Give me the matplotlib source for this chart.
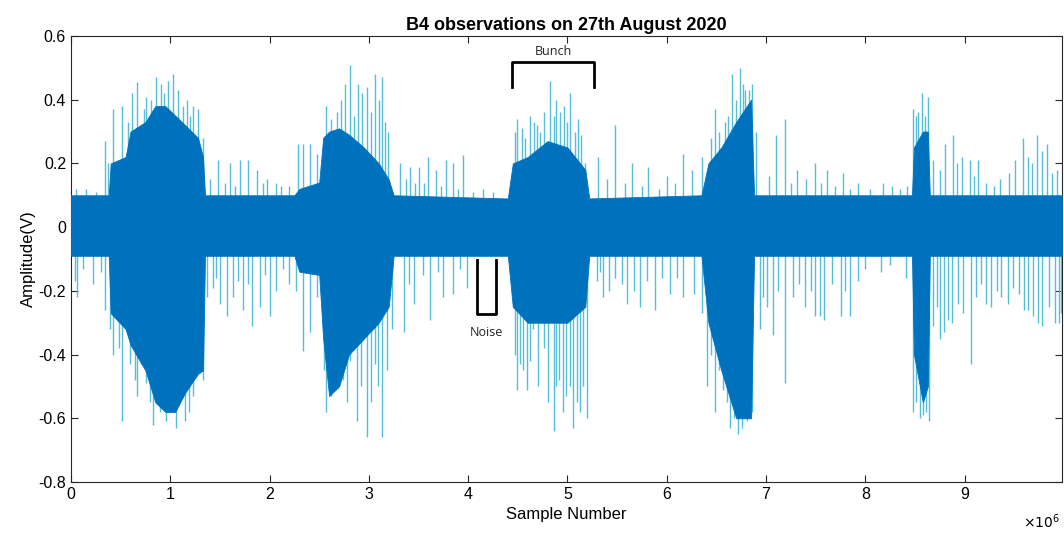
import matplotlib.pyplot as plt
import numpy as np

plt.rcParams['font.family'] = ['Liberation Sans', 'DejaVu Sans']
plt.rcParams['axes.unicode_minus'] = False

SCALE = 1e6  # x values below are in units of 1e6 samples

# dense core of the signal (dark band): x, upper edge, lower edge
core_x = [0.00, 0.38, 0.40, 0.55, 0.60, 0.75, 0.85, 0.95, 1.05, 1.15, 1.28, 1.33, 1.35,
          2.25, 2.30, 2.50, 2.54, 2.60, 2.70, 2.80, 2.95, 3.10, 3.20, 3.25,
          4.40, 4.45, 4.60, 4.80, 5.00, 5.18, 5.22,
          6.35, 6.42, 6.55, 6.70, 6.85, 6.88,
          8.47, 8.49, 8.58, 8.63, 8.65, 9.98]
core_hi = [0.10, 0.10, 0.20, 0.22, 0.30, 0.33, 0.38, 0.38, 0.35, 0.32, 0.28, 0.22, 0.10,
           0.10, 0.12, 0.14, 0.28, 0.30, 0.31, 0.29, 0.25, 0.20, 0.15, 0.10,
           0.09, 0.20, 0.22, 0.27, 0.25, 0.18, 0.09,
           0.10, 0.20, 0.25, 0.33, 0.40, 0.10,
           0.10, 0.25, 0.30, 0.30, 0.10, 0.10]
core_lo = [-0.09, -0.09, -0.27, -0.32, -0.37, -0.45, -0.55, -0.58, -0.58, -0.52, -0.46, -0.45, -0.09,
           -0.09, -0.14, -0.15, -0.35, -0.53, -0.50, -0.40, -0.35, -0.30, -0.25, -0.09,
           -0.09, -0.25, -0.30, -0.30, -0.30, -0.25, -0.09,
           -0.09, -0.30, -0.45, -0.60, -0.60, -0.09,
           -0.09, -0.40, -0.55, -0.50, -0.09, -0.09]

# isolated peaks above the core (light lines)
up_x = [0.34, 0.42, 0.51, 0.61, 0.67, 0.76, 0.86, 0.91, 0.98, 1.03, 1.08, 1.17, 1.23, 1.28, 1.33,
        1.48, 1.60, 1.70, 1.78, 1.87, 1.97, 2.07, 2.20, 2.29, 2.34, 2.41, 2.48,
        2.57, 2.68, 2.76, 2.81, 2.89, 2.98, 3.06, 3.13, 3.19,
        3.31, 3.41, 3.51, 3.60, 3.68, 3.78, 3.85, 3.95, 4.15,
        4.49, 4.54, 4.62, 4.69, 4.76, 4.82, 4.89, 4.97, 5.03, 5.11, 5.18,
        5.31, 5.48, 5.65, 5.81, 6.00, 6.16, 6.25, 6.36,
        6.49, 6.59, 6.66, 6.74, 6.79, 6.86, 6.90,
        7.10, 7.19, 7.31, 7.49, 7.61, 7.78, 7.93, 8.18, 8.27, 8.42,
        8.48, 8.51, 8.57, 8.63,
        8.68, 8.80, 8.88, 8.97, 9.05, 9.14, 9.36, 9.51, 9.59, 9.64, 9.73, 9.83, 9.93,
        0.37, 0.57, 0.74, 0.81, 0.94, 1.13, 1.20,
        2.62, 2.72, 2.85, 2.93, 3.02, 3.10, 3.16,
        4.47, 4.57, 4.66, 4.72, 4.86, 4.93, 5.00, 5.08, 5.14,
        6.45, 6.53, 6.62, 6.70, 6.77, 6.83, 8.53, 8.60,
        0.05, 0.15, 0.25, 1.40, 1.55, 1.65, 1.93, 2.12, 3.37, 3.46, 3.56, 3.73, 3.90, 4.05, 4.25,
        5.40, 5.58, 5.75, 5.92, 6.08, 7.03, 7.25, 7.40, 7.55, 7.70, 7.85, 8.05, 8.35,
        8.75, 8.92, 9.10, 9.22, 9.30, 9.45, 9.68, 9.78, 9.88]
up_y = [0.27, 0.37, 0.38, 0.42, 0.455, 0.41, 0.47, 0.45, 0.46, 0.48, 0.43, 0.40, 0.38, 0.37, 0.28,
        0.21, 0.20, 0.21, 0.21, 0.18, 0.15, 0.14, 0.13, 0.26, 0.26, 0.26, 0.23,
        0.38, 0.36, 0.45, 0.51, 0.45, 0.44, 0.48, 0.47, 0.30,
        0.20, 0.19, 0.19, 0.22, 0.18, 0.21, 0.20, 0.225, 0.12,
        0.34, 0.31, 0.35, 0.32, 0.36, 0.46, 0.40, 0.38, 0.42, 0.34, 0.20,
        0.22, 0.32, 0.20, 0.19, 0.16, 0.23, 0.18, 0.22,
        0.37, 0.33, 0.48, 0.50, 0.43, 0.45, 0.30,
        0.29, 0.34, 0.18, 0.20, 0.18, 0.17, 0.14, 0.14, 0.13, 0.13,
        0.37, 0.35, 0.42, 0.41,
        0.21, 0.26, 0.29, 0.22, 0.21, 0.21, 0.15, 0.21, 0.28, 0.22, 0.29, 0.26, 0.18,
        0.20, 0.33, 0.37, 0.40, 0.42, 0.38, 0.35,
        0.34, 0.40, 0.35, 0.42, 0.36, 0.40, 0.33,
        0.30, 0.28, 0.33, 0.30, 0.35, 0.36, 0.33, 0.30, 0.29,
        0.28, 0.30, 0.35, 0.40, 0.45, 0.43, 0.36, 0.35,
        0.12, 0.12, 0.11, 0.15, 0.14, 0.13, 0.14, 0.13, 0.15, 0.14, 0.14, 0.13, 0.12, 0.11, 0.11,
        0.15, 0.14, 0.13, 0.12, 0.14, 0.16, 0.14, 0.15, 0.14, 0.13, 0.12, 0.12, 0.12,
        0.18, 0.20, 0.16, 0.14, 0.13, 0.17, 0.20, 0.24, 0.17]

# isolated peaks below the core
lo_x = [0.04, 0.06, 0.22, 0.34, 0.42, 0.51, 0.59, 0.67, 0.76, 0.83, 0.90, 0.96, 1.06, 1.15, 1.23, 1.33,
        1.37, 1.43, 1.50, 1.57, 1.63, 1.73, 1.82, 1.90, 2.00, 2.07, 2.20, 2.27, 2.34, 2.41, 2.48,
        2.57, 2.62, 2.74, 2.81, 2.88, 2.98, 3.06, 3.13, 3.23,
        3.35, 3.45, 3.62, 3.75, 3.85, 3.99,
        4.49, 4.52, 4.59, 4.65, 4.76, 4.86, 4.92, 4.99, 5.06, 5.13, 5.20,
        5.30, 5.36, 5.48, 5.60, 5.73, 5.88, 6.03, 6.16, 6.27, 6.36,
        6.41, 6.49, 6.57, 6.64, 6.72, 6.81, 6.86,
        6.94, 7.07, 7.19, 7.27, 7.39, 7.49, 7.54, 7.58, 7.76, 7.85, 7.93, 8.16, 8.41,
        8.48, 8.58, 8.64,
        8.68, 8.75, 8.83, 8.98, 9.06, 9.17, 9.27, 9.37, 9.44, 9.49, 9.60, 9.69, 9.78, 9.91, 9.97,
        0.39, 0.48, 0.64, 0.71, 0.80, 0.87, 1.02, 1.12, 1.19, 1.28,
        2.55, 2.66, 2.78, 2.92, 3.02, 3.09, 3.18,
        4.47, 4.55, 4.62, 4.70, 4.80, 4.89, 4.96, 5.03, 5.10, 5.16,
        6.45, 6.53, 6.61, 6.68, 6.76, 6.84, 8.51, 8.55, 8.61,
        0.12, 0.30, 1.46, 1.68, 1.78, 1.95, 2.14, 3.40, 3.55, 3.70, 3.92,
        5.33, 5.42, 5.55, 5.67, 5.80, 5.95, 6.10, 6.97, 7.01, 7.12, 7.33, 7.45, 7.66, 7.80, 8.00, 8.25,
        8.72, 8.79, 8.87, 8.93, 9.12, 9.22, 9.33, 9.55, 9.64, 9.74, 9.85, 9.95]
lo_y = [-0.17, -0.22, -0.18, -0.26, -0.40, -0.61, -0.43, -0.53, -0.49, -0.62, -0.58, -0.61, -0.63, -0.61, -0.53, -0.48,
        -0.22, -0.19, -0.24, -0.28, -0.22, -0.26, -0.31, -0.25, -0.28, -0.20, -0.18, -0.20, -0.39, -0.33, -0.22,
        -0.58, -0.53, -0.48, -0.42, -0.61, -0.66, -0.43, -0.66, -0.32,
        -0.33, -0.24, -0.29, -0.22, -0.21, -0.19,
        -0.51, -0.43, -0.51, -0.32, -0.38, -0.64, -0.48, -0.53, -0.63, -0.58, -0.60,
        -0.17, -0.22, -0.16, -0.24, -0.25, -0.26, -0.21, -0.22, -0.21, -0.27,
        -0.50, -0.58, -0.51, -0.63, -0.65, -0.61, -0.58,
        -0.32, -0.34, -0.49, -0.22, -0.25, -0.28, -0.28, -0.29, -0.28, -0.28, -0.17, -0.14, -0.16,
        -0.58, -0.59, -0.61,
        -0.31, -0.35, -0.29, -0.27, -0.43, -0.18, -0.25, -0.22, -0.24, -0.19, -0.26, -0.28, -0.31, -0.30, -0.27,
        -0.32, -0.38, -0.48, -0.43, -0.55, -0.47, -0.57, -0.53, -0.58, -0.43,
        -0.45, -0.50, -0.55, -0.50, -0.55, -0.50, -0.45,
        -0.40, -0.45, -0.42, -0.50, -0.55, -0.50, -0.58, -0.50, -0.55, -0.50,
        -0.40, -0.45, -0.55, -0.60, -0.63, -0.55, -0.55, -0.60, -0.58,
        -0.13, -0.14, -0.16, -0.17, -0.18, -0.15, -0.13, -0.18, -0.15, -0.14, -0.13,
        -0.14, -0.20, -0.18, -0.20, -0.17, -0.16, -0.16, -0.22, -0.25, -0.20, -0.18, -0.20, -0.18, -0.20, -0.13, -0.12,
        -0.25, -0.33, -0.30, -0.24, -0.22, -0.24, -0.20, -0.21, -0.26, -0.30, -0.25, -0.30]

dark = '#0072BD'
light = '#55BFD8'

fig = plt.figure(figsize=(10.64, 5.33), dpi=100)
ax = fig.add_axes([0.0667, 0.0957, 0.9313, 0.8368])

ux = np.array(up_x) * SCALE
lx = np.array(lo_x) * SCALE
ax.vlines(ux, 0.05, up_y, color=light, lw=1.0, zorder=2)
ax.vlines(lx, lo_y, -0.05, color=light, lw=1.0, zorder=2)
ax.fill_between(np.array(core_x) * SCALE, core_lo, core_hi, facecolor=dark,
                edgecolor=dark, lw=0.6, zorder=3)

# annotations
ax.plot(np.array([4.44, 4.44, 5.27, 5.27]) * SCALE, [0.44, 0.518, 0.518, 0.44],
        color='black', lw=2, zorder=4)
ax.text(4.855 * SCALE, 0.53, 'Bunch', ha='center', va='bottom', fontsize=9, color='#222222',
        family=['Open Sans', 'DejaVu Sans'])
ax.plot(np.array([4.09, 4.09, 4.28, 4.28]) * SCALE, [-0.104, -0.273, -0.273, -0.104],
        color='black', lw=2, zorder=4)
ax.text(4.185 * SCALE, -0.31, 'Noise', ha='center', va='top', fontsize=9, color='#222222',
        family=['Open Sans', 'DejaVu Sans'])

ax.set_xlim(0, 9.98 * SCALE)
ax.set_ylim(-0.8, 0.6)
xt = np.arange(0, 10) * SCALE
ax.set_xticks(xt)
ax.set_xticklabels([str(i) for i in range(10)])
yt = [-0.8, -0.6, -0.4, -0.2, 0, 0.2, 0.4, 0.6]
ax.set_yticks(yt)
ax.set_yticklabels(['-0.8', '-0.6', '-0.4', '-0.2', '0', '0.2', '0.4', '0.6'])
ax.tick_params(direction='in', top=True, right=True, labelsize=11.5, length=5, color='#262626')
for s in ax.spines.values():
    s.set_color('#262626')
    s.set_linewidth(0.8)

ax.set_xlabel('Sample Number', fontsize=12, labelpad=4)
ax.set_ylabel('Amplitude(V)', fontsize=12, labelpad=2)
ax.set_title('B4 observations on 27th August 2020', fontsize=13, fontweight='bold', pad=4)
ax.text(0.998, -0.068, r'$\times10^6$', transform=ax.transAxes, ha='right', va='top', fontsize=10)

fig.savefig('out.png', dpi=100)
